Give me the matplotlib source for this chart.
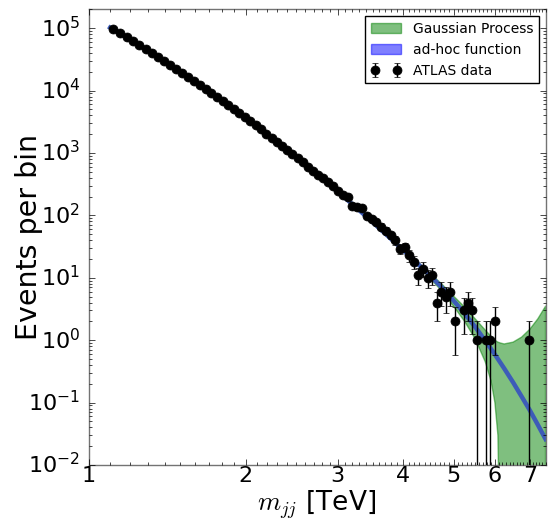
import matplotlib
matplotlib.use('Agg')
import matplotlib as mpl
import matplotlib.pyplot as plt
from matplotlib.patches import Patch
import numpy as np

mpl.style.use('classic')

# ATLAS data: bin centres [TeV] and events per bin (empty bins left out)
mjj = [1.1165, 1.1495, 1.183, 1.217, 1.2515, 1.287, 1.323, 1.3595, 1.397, 1.435,
       1.4735, 1.513, 1.553, 1.5935, 1.635, 1.677, 1.7195, 1.763, 1.8075, 1.8525,
       1.898, 1.9445, 1.992, 2.0405, 2.0895, 2.139, 2.1895, 2.241, 2.2935, 2.347,
       2.4015, 2.457, 2.5135, 2.571, 2.6295, 2.689, 2.7495, 2.811, 2.8735, 2.937,
       3.0015, 3.067, 3.1335, 3.201, 3.27, 3.3405, 3.412, 3.4845, 3.5585, 3.634,
       3.7105, 3.788, 3.867, 3.9475, 4.029, 4.112, 4.1965, 4.2825, 4.37, 4.459,
       4.5495, 4.6415, 4.735, 4.83, 4.9265, 5.0245, 5.226, 5.329, 5.434, 5.541,
       5.761, 5.874, 5.989, 6.985]
events = [95200, 82400, 71300, 61600, 53300, 46100, 39800, 34400, 29700, 25600,
          22100, 19100, 16500, 14200, 12300, 10600, 9130, 7870, 6780, 5840,
          5030, 4340, 3730, 3210, 2760, 2380, 2050, 1760, 1515, 1300,
          1120, 960, 824, 707, 606, 520, 450, 395, 345, 295,
          250, 215, 195, 142, 136, 129, 98, 88, 78, 66,
          57, 48, 40, 29, 31, 23, 18, 11, 14, 10,
          11, 4, 6, 5, 6, 2, 3, 4, 3, 1,
          1, 1, 2, 1]

# ad-hoc fit function
fit_x = [1.1, 1.3, 1.5, 1.75, 2.0, 2.25, 2.5, 2.75, 3.0, 3.25, 3.5, 3.75, 4.0, 4.25,
         4.5, 4.75, 5.0, 5.25, 5.5, 5.75, 6.0, 6.25, 6.5, 6.75, 7.0, 7.25, 7.5]
fit_y = [1.02e5, 4.37e4, 2.0e4, 8.23e3, 3.64e3, 1.72e3, 855, 445, 240, 135, 77.7, 46, 28, 17.4,
         11, 7.0, 4.3, 2.67, 1.63, 0.98, 0.59, 0.353, 0.211, 0.125, 0.075, 0.044, 0.026]

# Gaussian Process band
gp_x = [1.1, 1.3, 1.5, 1.75, 2.0, 2.25, 2.5, 2.75, 3.0, 3.25, 3.5, 3.75, 4.0, 4.25,
        4.5, 4.75, 5.0, 5.25, 5.5, 5.75, 5.9, 6.0, 6.08, 6.15, 6.25, 6.5, 6.75,
        7.0, 7.25, 7.5]
gp_lo = [1.0e5, 4.30e4, 1.97e4, 8.1e3, 3.58e3, 1.69e3, 840, 437, 235, 132, 75.5, 44.5, 26.8, 16.3,
         10.0, 6.1, 3.5, 2.0, 1.05, 0.45, 0.22, 0.1, 0.03, 1e-4, 1e-4, 1e-4, 1e-4,
         1e-4, 1e-4, 1e-4]
gp_hi = [1.04e5, 4.44e4, 2.03e4, 8.36e3, 3.70e3, 1.75e3, 870, 453, 245, 138, 80, 47.5, 29.2, 18.5,
         12.0, 7.9, 5.1, 3.4, 2.2, 1.45, 1.15, 1.0, 0.93, 0.9, 0.87, 0.93, 1.12,
         1.5, 2.2, 3.5]

fig = plt.figure(figsize=(5.48, 5.21), facecolor='white')
ax = fig.add_axes([0.1615, 0.1075, 0.834, 0.8745])

ax.fill_between(gp_x, gp_lo, gp_hi, color='g', alpha=0.5, zorder=1)
ax.plot(fit_x, fit_y, color='#3d5cb8', lw=3.2, zorder=2)
eb = ax.errorbar(mjj, events, yerr=np.sqrt(events), fmt='o', color='k', mec='k',
                 ms=6.5, ecolor='k', elinewidth=1, capsize=2.5, zorder=3)

ax.set_xscale('log')
ax.set_yscale('log')
ax.set_xlim(1, 7.5)
ax.set_ylim(1e-2, 2e5)

ax.set_xticks([1, 2, 3, 4, 5, 6, 7])
ax.set_xticklabels(['1', '2', '3', '4', '5', '6', '7'])
ax.xaxis.set_minor_locator(mpl.ticker.FixedLocator([1 + 0.1 * i for i in range(66)]))
ax.xaxis.set_minor_formatter(mpl.ticker.NullFormatter())
ax.yaxis.set_minor_formatter(mpl.ticker.NullFormatter())
ax.tick_params(labelsize=16)
ax.tick_params(axis='y', pad=6)
ax.tick_params(axis='x', pad=1)

for sp in ax.spines.values():
    sp.set_color('0.45')

ax.set_xlabel(r'$m_{jj}$ [TeV]', fontsize=19, va='top')
ax.set_ylabel('Events per bin', fontsize=20.5)
ax.xaxis.set_label_coords(0.5, -0.051)
ax.yaxis.set_label_coords(-0.10, 0.5)

handles = [Patch(facecolor='g', edgecolor='g', alpha=0.5),
           Patch(facecolor='b', edgecolor='b', alpha=0.5),
           eb]
ax.legend(handles, ['Gaussian Process', 'ad-hoc function', 'ATLAS data'],
          loc='upper right', fontsize=10, handlelength=2.2)

fig.savefig('out.png', dpi=100, facecolor='white')
